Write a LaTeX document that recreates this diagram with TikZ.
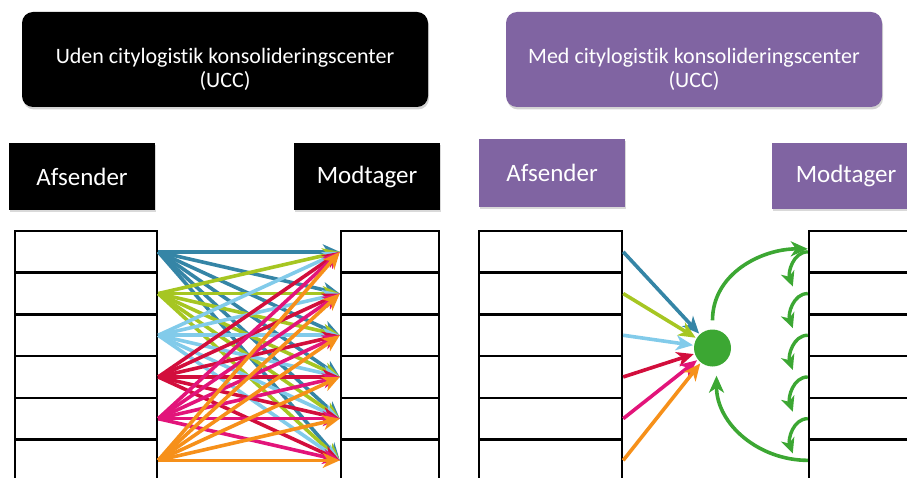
\documentclass[tikz,border=0pt]{standalone}
\usepackage{fontspec}
\setmainfont{Carlito}[Ligatures=NoCommon]
\usetikzlibrary{positioning,calc,arrows.meta,shadows}

\definecolor{uccpurple}{HTML}{8064A2}
\definecolor{cBlue}{HTML}{3585A6}
\definecolor{cLime}{HTML}{A6C622}
\definecolor{cSky}{HTML}{82CBEA}
\definecolor{cRed}{HTML}{D20E3C}
\definecolor{cPink}{HTML}{E2147A}
\definecolor{cOrange}{HTML}{F6901A}
\definecolor{cGreen}{HTML}{3CA733}

\tikzset{
  titlebox/.style={rounded corners=11pt, minimum width=406pt, minimum height=95pt, inner sep=0pt,
    drop shadow={shadow xshift=1pt, shadow yshift=-2.5pt, opacity=.35}},
  titletext/.style={text=white, align=center, font=\fontsize{22}{24}\selectfont},
  labelbox/.style={minimum width=146pt, minimum height=67pt, inner sep=0pt, text=white,
    font=\fontsize{25}{28}\selectfont,
    drop shadow={shadow xshift=1pt, shadow yshift=-2pt, opacity=.3}},
  rowbox/.style={draw=black, line width=2.4pt, fill=white, minimum height=41.7pt, inner sep=0pt},
  flow/.style={-{Stealth[length=17pt,width=15pt,inset=5pt]}, line width=3.6pt},
  hookflow/.style={-{Stealth[length=15pt,width=14pt,inset=4.5pt]}, line width=3.4pt, cGreen},
}

\begin{document}
\begin{tikzpicture}[x=1pt,y=1pt]
  \clip (0,0) rectangle (907,-478);
  \useasboundingbox (0,0) rectangle (907,-478);

  % headings
  \node[titlebox, fill=black] (titleU) at (225,-59.5) {};
  \node[titletext] (titleUtxt) at ([yshift=-10pt]titleU.center) {Uden citylogistik konsolideringscenter\\(UCC)};
  \node[titlebox, fill=uccpurple, minimum width=376pt] (titleM) at (694,-59.5) {};
  \node[titletext] (titleMtxt) at ([yshift=-10pt]titleM.center) {Med citylogistik konsolideringscenter\\(UCC)};

  % afsender / modtager
  \node[labelbox, fill=black] (afsU) at (82,-176.5) {Afsender};
  \node[labelbox, fill=black] (modU) at (367,-176.5) {Modtager};
  \node[labelbox, fill=uccpurple, minimum height=68pt] (afsM) at (552,-173) {Afsender};
  \node[labelbox, fill=uccpurple, minimum width=148pt, minimum height=66pt] (modM) at (846,-176) {Modtager};

  % stacks
  \foreach \i in {1,...,6} {
    \node[rowbox, minimum width=142pt] (ls\i) at (86,{-231-41.7*(\i-0.5)}) {};
    \node[rowbox, minimum width=98pt] (lt\i) at (390,{-231-41.7*(\i-0.5)}) {};
    \node[rowbox, minimum width=143pt] (rs\i) at (550.5,{-231-41.7*(\i-0.5)}) {};
    \node[rowbox, minimum width=110pt] (rt\i) at (864,{-231-41.7*(\i-0.5)}) {};
  }

  % without UCC: everyone to everyone
  \foreach \i/\c in {1/cBlue,2/cLime,3/cSky,4/cRed,5/cPink,6/cOrange}
    \foreach \j in {1,...,6}
      \draw[flow,\c] (ls\i.east) -- (lt\j.west);

  % with UCC
  \node[circle, fill=cGreen, minimum size=37pt, inner sep=0pt] (ucc) at (712.5,-348) {};
  \foreach \i/\c in {1/cBlue,2/cLime,3/cSky,4/cRed,5/cPink,6/cOrange}
    \draw[flow,\c,shorten >=1pt] (rs\i.east) -- (ucc);

  \draw[flow,cGreen] ([yshift=9pt]ucc.north) to[out=90,in=180] ([yshift=3pt]rt1.west);
  \draw[flow,cGreen] (rt6.west) to[out=180,in=-90] ([xshift=4pt,yshift=-9pt]ucc.south);
  \foreach \i [evaluate=\i as \n using int(\i+1)] in {1,...,5}
    \draw[hookflow] (rt\i.west) to[out=180,in=110] ([xshift=-15pt,yshift=7pt]rt\n.west);
\end{tikzpicture}
\end{document}
